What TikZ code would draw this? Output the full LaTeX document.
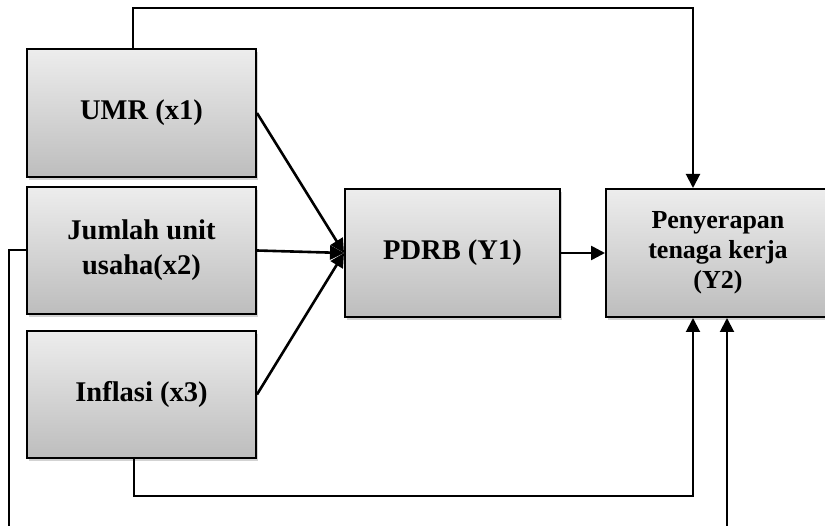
\documentclass[tikz,border=0pt]{standalone}
\usepackage{fontspec}
\setmainfont{Liberation Serif}
\usetikzlibrary{arrows.meta,shadows,calc}
\definecolor{boxtop}{HTML}{EDEDED}
\definecolor{boxbot}{HTML}{BDBDBD}
\tikzset{
  box/.style={draw=black, line width=2pt, top color=boxtop, bottom color=boxbot,
    drop shadow={opacity=0.35, shadow xshift=2pt, shadow yshift=-3pt},
    anchor=north west, align=center, inner sep=2pt,
    font=\fontsize{28.5}{35}\selectfont\bfseries},
  conn/.style={line width=2pt},
  arr/.style={conn, -{Triangle[length=14pt,width=14pt]}},
  arrthick/.style={arr, line width=2.6pt}
}
\begin{document}
\begin{tikzpicture}[x=1pt,y=-1pt]
\useasboundingbox (0,0) rectangle (825,526);
\node[box, minimum width=229pt, minimum height=128pt] (umr) at (26,48) {UMR (x1)};
\node[box, minimum width=229pt, minimum height=127pt] (jml) at (26,186) {Jumlah unit\\usaha(x2)};
\node[box, minimum width=229pt, minimum height=127pt] (inf) at (26,330) {Inflasi (x3)};
\node[box, minimum width=215pt, minimum height=128pt] (pdrb) at (344,188) {PDRB (Y1)};
\node[box, minimum width=228pt, minimum height=128pt, font=\fontsize{26}{30}\selectfont\bfseries] (y2) at (605,188) {\hspace*{-4pt}Penyerapan\\\hspace*{-4pt}tenaga kerja\\\hspace*{-4pt}(Y2)};
\coordinate (t1) at (133,8);
\coordinate (t2) at (693,8);
\coordinate (b1) at (134,496);
\coordinate (b2) at (693,496);
\coordinate (l1) at (9,540);
\coordinate (l2) at (727,540);
\draw[arr] (umr.north -| t1) -- (t1) -- (t2) -- (t2 |- y2.north);
\draw[arrthick] (umr.east) -- (pdrb.west);
\draw[arrthick] (jml.east) -- (pdrb.west);
\draw[arrthick] (inf.east) -- (pdrb.west);
\draw[arrthick] (pdrb.east) -- (y2.west);
\draw[arr] (inf.south -| b1) -- (b1) -- (b2) -- (b2 |- y2.south);
\draw[arr] (jml.west) -| (l1) -- (l2) -- (l2 |- y2.south);
\end{tikzpicture}
\end{document}
